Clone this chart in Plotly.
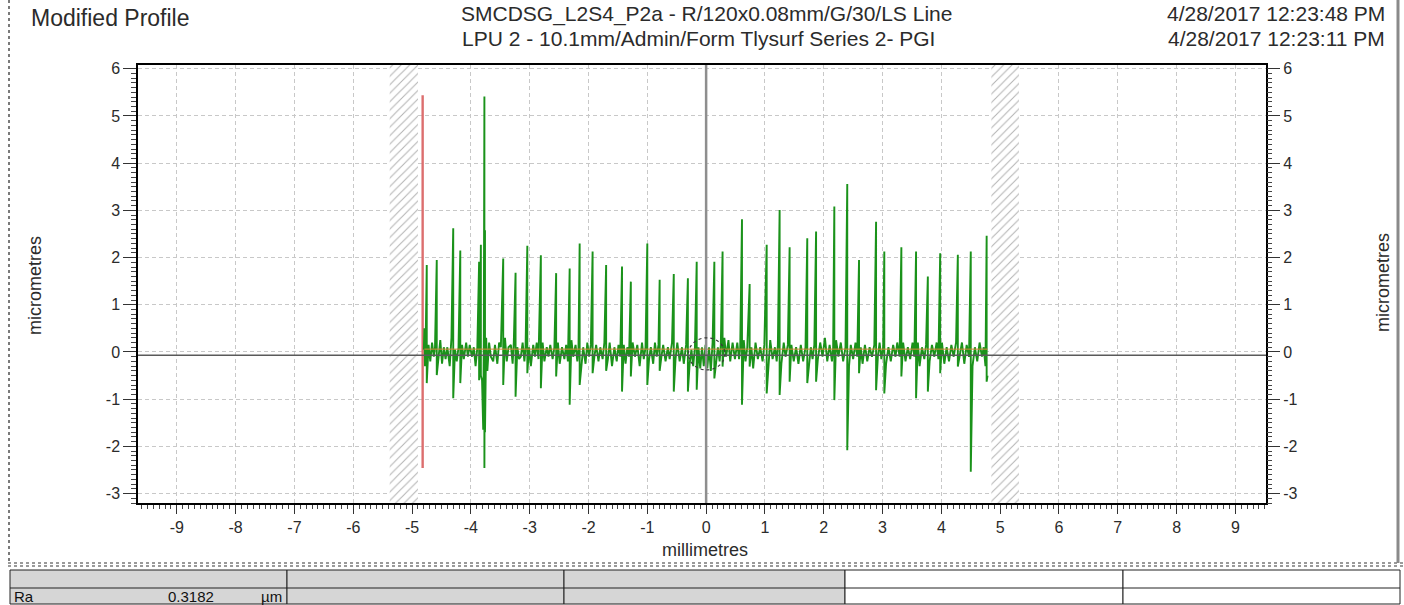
import plotly.graph_objects as go

# ---------------- data ----------------
x_tick_vals = [-9, -8, -7, -6, -5, -4, -3, -2, -1, 0, 1, 2, 3, 4, 5, 6, 7, 8, 9]
x_tick_text = ["-9", "-8", "-7", "-6", "-5", "-4", "-3", "-2", "-1", "0",
               "1", "2", "3", "4", "5", "6", "7", "8", "9"]
y_tick_vals = [-3, -2, -1, 0, 1, 2, 3, 4, 5, 6]
y_tick_text = ["-3", "-2", "-1", "0", "1", "2", "3", "4", "5", "6"]

# profile peaks (mm, µm up, µm down)
spike_x = [-4.75, -4.58, -4.30, -4.18, -3.86, -3.83, -3.77, -3.76, -3.45, -3.24,
           -3.04, -2.81, -2.55, -2.32, -2.15, -1.93, -1.70, -1.43, -1.28, -1.00,
           -0.79, -0.55, -0.31, -0.16, 0.14, 0.28, 0.61, 0.74, 1.03, 1.25,
           1.42, 1.72, 1.87, 2.18, 2.40, 2.60, 2.89, 3.03, 3.32, 3.57,
           3.77, 3.98, 4.28, 4.50, 4.77]
spike_top = [1.84, 1.95, 2.62, 2.15, 1.91, 2.27, 5.41, 2.58, 1.98, 1.68,
             2.25, 2.05, 1.67, 1.77, 2.30, 2.13, 1.84, 1.81, 1.49, 2.30,
             1.53, 1.65, 1.56, 1.91, 1.91, 2.13, 2.81, 1.44, 2.27, 3.01,
             2.22, 2.41, 2.55, 3.08, 3.56, 1.95, 2.76, 2.13, 2.22, 2.13,
             1.60, 2.09, 2.06, 2.13, 2.46]
spike_bottom = [-0.66, -0.49, -0.98, -0.66, -0.60, -0.50, -2.46, -1.70, -0.70, -0.95,
                -0.45, -0.77, -0.52, -1.12, -0.70, -0.45, -0.40, -0.84, -0.52, -0.70,
                -0.40, -0.84, -0.84, -0.80, -0.56, -0.31, -1.12, -0.31, -0.88, -0.91,
                -0.63, -0.66, -0.63, -1.02, -2.08, -0.45, -0.81, -0.88, -0.52, -0.98,
                -0.84, -0.45, -0.31, -2.54, -0.63]

# baseline roughness between the peaks (mm, µm)
baseline_points = [
    (-4.80, 0.05), (-4.79, 0.5), (-4.78, -0.3), (-4.77, 0.1),
    (-4.72, 0.15), (-4.69, -0.2), (-4.66, 0.2), (-4.63, -0.1), (-4.61, 0.1),
    (-4.55, -0.1), (-4.52, 0.25), (-4.49, -0.25), (-4.46, 0.1), (-4.43, -0.15),
    (-4.40, 0.1), (-4.36, -0.3), (-4.33, 0.3),
    (-4.27, 0.05), (-4.24, -0.2), (-4.21, 0.1),
    (-4.15, 0.15), (-4.12, -0.15), (-4.08, 0.2), (-4.05, -0.1), (-4.02, 0.15),
    (-3.98, -0.1), (-3.95, 0.1), (-3.92, -0.3), (-3.89, 0.1),
    (-3.85, -0.2), (-3.81, -0.6), (-3.79, -1.65), (-3.78, 0.3),
    (-3.74, 0.3), (-3.72, -0.4), (-3.69, 0.2), (-3.66, -0.1), (-3.62, -0.2),
    (-3.59, 0.15), (-3.55, -0.25), (-3.52, 0.2), (-3.49, 0.1),
    (-3.42, 0.3), (-3.39, -0.2), (-3.36, 0.1), (-3.32, 0.15), (-3.29, -0.25), (-3.27, 0.2),
    (-3.21, 0.1), (-3.18, -0.15), (-3.15, -0.1), (-3.12, 0.2), (-3.09, -0.2), (-3.07, 0.1),
    (-3.01, 0.1), (-2.98, -0.3), (-2.94, 0.15), (-2.91, -0.1), (-2.88, 0.2), (-2.85, -0.15),
    (-2.78, 0.2), (-2.75, -0.2), (-2.71, 0.1), (-2.68, -0.1), (-2.65, 0.15), (-2.61, -0.15), (-2.58, 0.1),
    (-2.52, 0.2), (-2.49, -0.25), (-2.45, 0.1), (-2.41, -0.15), (-2.38, 0.15), (-2.35, -0.2),
    (-2.29, 0.25), (-2.26, -0.1), (-2.22, 0.15), (-2.19, -0.2), (-2.17, 0.1),
    (-2.12, -0.2), (-2.09, 0.1), (-2.05, -0.25), (-2.02, 0.2), (-1.99, -0.1), (-1.96, 0.15),
    (-1.90, -0.1), (-1.87, 0.15), (-1.83, -0.2), (-1.80, 0.1), (-1.76, -0.15), (-1.73, 0.2),
    (-1.67, -0.15), (-1.64, 0.2), (-1.60, -0.3), (-1.56, 0.1), (-1.52, -0.2), (-1.49, 0.15), (-1.46, -0.1),
    (-1.40, 0.15), (-1.37, -0.25), (-1.34, 0.1), (-1.31, -0.1),
    (-1.25, 0.2), (-1.21, -0.1), (-1.17, 0.15), (-1.13, -0.3), (-1.09, 0.2), (-1.06, -0.15), (-1.03, 0.1),
    (-0.97, -0.15), (-0.94, 0.1), (-0.90, -0.25), (-0.87, 0.2), (-0.84, -0.1), (-0.81, 0.15),
    (-0.76, -0.1), (-0.73, 0.15), (-0.69, -0.2), (-0.65, 0.1), (-0.62, -0.15), (-0.58, 0.2),
    (-0.52, -0.15), (-0.49, 0.2), (-0.45, -0.2), (-0.41, 0.1), (-0.38, -0.25), (-0.34, 0.15),
    (-0.28, -0.25), (-0.25, 0.05), (-0.22, -0.3), (-0.19, 0.1),
    (-0.13, 0.1), (-0.10, -0.35), (-0.07, 0.1), (-0.04, -0.3), (-0.01, 0.15),
    (0.02, -0.35), (0.05, 0.1), (0.08, -0.4), (0.11, 0.2),
    (0.17, -0.25), (0.20, 0.1), (0.23, -0.2), (0.25, 0.15),
    (0.31, 0.3), (0.34, -0.1), (0.38, 0.25), (0.41, -0.2), (0.45, 0.2), (0.49, -0.15),
    (0.53, 0.2), (0.56, -0.15), (0.58, 0.1),
    (0.64, 0.25), (0.67, -0.2), (0.70, 0.1),
    (0.77, 0.1), (0.80, -0.35), (0.84, 0.2), (0.88, -0.15), (0.92, 0.1), (0.96, -0.2), (0.99, 0.15),
    (1.06, -0.2), (1.09, 0.25), (1.13, -0.15), (1.17, 0.1), (1.20, -0.2), (1.22, 0.15),
    (1.28, -0.25), (1.32, 0.2), (1.35, -0.1), (1.39, 0.15),
    (1.45, 0.15), (1.49, -0.2), (1.53, 0.1), (1.57, -0.25), (1.61, 0.15), (1.65, -0.2), (1.69, 0.1),
    (1.75, -0.2), (1.78, 0.1), (1.81, -0.15), (1.84, 0.15),
    (1.90, -0.15), (1.94, 0.2), (1.98, -0.1), (2.02, 0.3), (2.06, -0.2), (2.10, 0.15), (2.14, -0.2), (2.16, 0.1),
    (2.21, 0.25), (2.25, -0.1), (2.29, 0.2), (2.33, -0.2), (2.37, 0.1),
    (2.43, -0.3), (2.46, 0.15), (2.50, -0.15), (2.54, 0.2), (2.57, -0.1),
    (2.63, 0.1), (2.66, -0.25), (2.70, 0.15), (2.74, -0.2), (2.78, 0.1), (2.82, -0.1), (2.86, 0.15),
    (2.92, -0.1), (2.95, 0.2), (2.98, -0.15), (3.01, 0.1),
    (3.06, -0.25), (3.10, 0.1), (3.14, -0.2), (3.18, 0.15), (3.22, -0.1), (3.25, 0.2), (3.29, -0.1),
    (3.35, 0.2), (3.39, -0.2), (3.43, 0.1), (3.47, -0.15), (3.51, 0.2), (3.54, -0.1),
    (3.60, 0.2), (3.63, -0.3), (3.67, 0.1), (3.71, -0.15), (3.74, 0.15),
    (3.80, -0.2), (3.84, 0.15), (3.88, -0.1), (3.92, 0.2), (3.95, -0.15),
    (4.01, 0.2), (4.05, -0.25), (4.09, 0.1), (4.13, -0.2), (4.17, 0.15), (4.21, -0.1), (4.25, 0.2),
    (4.31, -0.1), (4.35, 0.2), (4.39, -0.25), (4.43, 0.15), (4.47, -0.1),
    (4.53, -0.3), (4.57, 0.1), (4.61, -0.2), (4.65, 0.2), (4.69, -0.1), (4.72, 0.1), (4.75, -0.3),
    (4.785, -0.5),
]

evaluation_marker_x = [-4.82, -4.82]
evaluation_marker_y = [-2.46, 5.44]
excluded_left = [-5.38, -4.90]
excluded_right = [4.85, 5.32]
profile_extent = [-4.79, 4.785]
mean_line_y = [0.06, 0.06]
reference_line_y = -0.07

x_range = [-9.66, 9.52]
y_range = [-3.2, 6.08]

title_left = "Modified Profile"
title_center = ["SMCDSG_L2S4_P2a - R/120x0.08mm/G/30/LS Line",
                "LPU 2 - 10.1mm/Admin/Form Tlysurf Series 2- PGI"]
title_right = ["4/28/2017 12:23:48 PM", "4/28/2017 12:23:11 PM"]
param_name = "Ra"
param_value = "0.3182"
param_unit = "µm"

# ---------------- build profile path ----------------
events = [(x, [y]) for x, y in baseline_points] + \
         [(x, [t, b]) for x, t, b in zip(spike_x, spike_top, spike_bottom)]
events.sort(key=lambda e: e[0])
prof_x, prof_y = [], []
for x, ys in events:
    for y in ys:
        prof_x.append(x)
        prof_y.append(y)

# ---------------- layout geometry (pixels) ----------------
W, H = 1404, 605
L, R, T, B = 138, 1266, 65, 503
PW, PH = R - L, B - T


def fx(p):
    return (p - L) / PW


def fy(p):
    return (B - p) / PH


FONT = "Liberation Sans, Arial, sans-serif"
TXT = "#2b2b2b"

fig = go.Figure()

# hatched excluded zones
for band in (excluded_left, excluded_right):
    fig.add_trace(go.Scatter(
        x=[band[0], band[1], band[1], band[0], band[0]],
        y=[y_range[0], y_range[0], y_range[1], y_range[1], y_range[0]],
        mode="lines", fill="toself",
        fillcolor="rgba(0,0,0,0)",
        fillpattern=dict(shape="/", fgcolor="#666666", bgcolor="white",
                         size=6, solidity=0.17),
        line=dict(width=0), hoverinfo="skip", showlegend=False))

# red evaluation marker
fig.add_trace(go.Scatter(x=evaluation_marker_x, y=evaluation_marker_y, mode="lines",
                         line=dict(color="#dc6e6e", width=2.4),
                         hoverinfo="skip", showlegend=False))

# profile
fig.add_trace(go.Scatter(x=prof_x, y=prof_y, mode="lines",
                         line=dict(color="#1a921a", width=1.9),
                         hoverinfo="skip", showlegend=False))

# mean line (orange) on right axis
fig.add_trace(go.Scatter(x=profile_extent, y=mean_line_y, mode="lines", yaxis="y2",
                         line=dict(color="#d98a3a", width=1),
                         hoverinfo="skip", showlegend=False))

tickfont = dict(family=FONT, size=16, color=TXT)
grid_dash = "4px,3px"

fig.update_layout(
    width=W, height=H, autosize=False,
    margin=dict(l=L, r=W - R, t=T, b=H - B, pad=0),
    paper_bgcolor="white", plot_bgcolor="white",
    showlegend=False, hovermode=False,
    xaxis=dict(range=x_range, tickmode="array", tickvals=x_tick_vals, ticktext=x_tick_text,
               ticks="outside", ticklen=9, tickwidth=1, tickcolor="#333",
               tickfont=tickfont,
               showgrid=True, gridcolor="#c8c8c8", griddash=grid_dash, gridwidth=1,
               zeroline=False, showline=True, linecolor="black", linewidth=1.5, mirror=True,
               minor=dict(ticks="outside", ticklen=4, dtick=0.1, tick0=0,
                          tickcolor="#444", tickwidth=1, showgrid=False)),
    yaxis=dict(range=y_range, tickmode="array", tickvals=y_tick_vals, ticktext=y_tick_text,
               ticks="outside", ticklen=13, tickwidth=1, tickcolor="#333",
               tickfont=tickfont,
               showgrid=True, gridcolor="#c8c8c8", griddash=grid_dash, gridwidth=1,
               zeroline=False, showline=True, linecolor="black", linewidth=1.5, mirror=True,
               minor=dict(ticks="outside", ticklen=5, dtick=0.1, tick0=0,
                          tickcolor="#444", tickwidth=1, showgrid=False)),
    yaxis2=dict(range=y_range, overlaying="y", side="right",
                tickmode="array", tickvals=y_tick_vals, ticktext=y_tick_text,
                ticks="outside", ticklen=13, tickwidth=1, tickcolor="#333",
                tickfont=tickfont, showgrid=False, zeroline=False, showline=False,
                minor=dict(ticks="outside", ticklen=5, dtick=0.1, tick0=0,
                           tickcolor="#444", tickwidth=1, showgrid=False)),
)

shapes = []
# zero vertical line and reference horizontal line
shapes.append(dict(type="line", xref="x", yref="paper", x0=0, x1=0, y0=0, y1=1,
                   line=dict(color="#8e8e8e", width=2.5), layer="above"))
shapes.append(dict(type="line", xref="paper", yref="y", x0=0, x1=1,
                   y0=reference_line_y, y1=reference_line_y,
                   line=dict(color="#5a5a5a", width=1.5), layer="above"))
# centre marker circle
shapes.append(dict(type="circle", xref="x", yref="y", x0=-0.3, x1=0.32, y0=-0.38, y1=0.3,
                   line=dict(color="#3a3a3a", width=1.2, dash="dot"), layer="above"))

# page frame: dotted left border, right border, separator
shapes.append(dict(type="line", xref="paper", yref="paper", x0=fx(9), x1=fx(9),
                   y0=fy(0), y1=fy(564), line=dict(color="#7a7a7a", width=2, dash="dot")))
shapes.append(dict(type="line", xref="paper", yref="paper", x0=fx(1398), x1=fx(1398),
                   y0=fy(0), y1=fy(563), line=dict(color="#8a8a8a", width=3)))
shapes.append(dict(type="line", xref="paper", yref="paper", x0=fx(8), x1=fx(1404),
                   y0=fy(563), y1=fy(563), line=dict(color="#7a7a7a", width=1.5, dash="dot")))
shapes.append(dict(type="line", xref="paper", yref="paper", x0=fx(8), x1=fx(1404),
                   y0=fy(566), y1=fy(566), line=dict(color="#7a7a7a", width=1.5, dash="dot")))

# results table
tbl_cols = [10, 287, 564, 845, 1123, 1400]
tbl_top, tbl_mid, tbl_bot = 570, 588, 604
for i in range(5):
    fill = "#d6d6d6" if i < 3 else "white"
    shapes.append(dict(type="rect", xref="paper", yref="paper",
                       x0=fx(tbl_cols[i]), x1=fx(tbl_cols[i + 1]),
                       y0=fy(tbl_bot), y1=fy(tbl_top),
                       fillcolor=fill, line=dict(color="#222", width=1)))
shapes.append(dict(type="line", xref="paper", yref="paper", x0=fx(10), x1=fx(1400),
                   y0=fy(tbl_mid), y1=fy(tbl_mid), line=dict(color="#222", width=1)))
fig.update_layout(shapes=shapes)

TS = 21
ann = []
ann.append(dict(text=title_left, x=fx(29), y=fy(18), xanchor="left", yanchor="middle",
                font=dict(family=FONT, size=TS + 2, color=TXT)))
ann.append(dict(text=title_center[0], x=fx(706), y=fy(14), xanchor="center", yanchor="middle",
                font=dict(family=FONT, size=TS, color=TXT)))
ann.append(dict(text=title_center[1], x=fx(698), y=fy(38.5), xanchor="center", yanchor="middle",
                font=dict(family=FONT, size=TS, color=TXT)))
ann.append(dict(text=title_right[0], x=fx(1387), y=fy(14), xanchor="right", yanchor="middle",
                font=dict(family=FONT, size=TS, color=TXT)))
ann.append(dict(text=title_right[1], x=fx(1387), y=fy(38.5), xanchor="right", yanchor="middle",
                font=dict(family=FONT, size=TS, color=TXT)))
ann.append(dict(text="micrometres", x=fx(35), y=fy(285), textangle=-90,
                xanchor="center", yanchor="middle",
                font=dict(family=FONT, size=18, color=TXT)))
ann.append(dict(text="micrometres", x=fx(1383), y=fy(283), textangle=-90,
                xanchor="center", yanchor="middle",
                font=dict(family=FONT, size=18, color=TXT)))
ann.append(dict(text="millimetres", x=fx(705), y=fy(550), xanchor="center", yanchor="middle",
                font=dict(family=FONT, size=18, color=TXT)))
ann.append(dict(text=param_name, x=fx(12), y=fy(596), xanchor="left", yanchor="middle",
                font=dict(family=FONT, size=15, color="#111")))
ann.append(dict(text=param_value, x=fx(216), y=fy(596), xanchor="right", yanchor="middle",
                font=dict(family=FONT, size=15, color="#111")))
ann.append(dict(text=param_unit, x=fx(284), y=fy(596), xanchor="right", yanchor="middle",
                font=dict(family=FONT, size=15, color="#111")))
for a in ann:
    a.update(xref="paper", yref="paper", showarrow=False)
fig.update_layout(annotations=ann)

fig.write_html("out.html", config={"displayModeBar": False})
